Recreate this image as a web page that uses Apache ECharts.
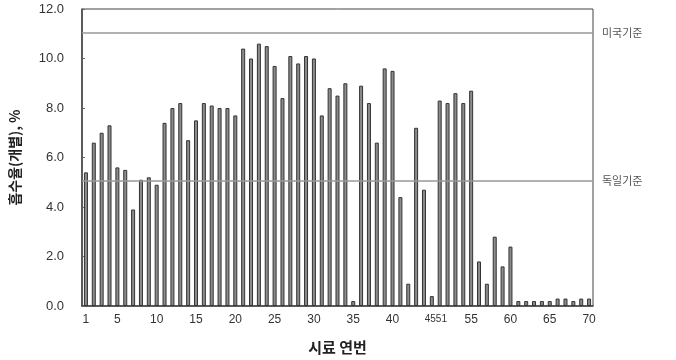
<!DOCTYPE html>
<html>
<head>
<meta charset="utf-8">
<script src="https://cdn.jsdelivr.net/npm/echarts@6/dist/echarts.min.js"></script>
<style>
  html, body { margin: 0; padding: 0; background: #fff; }
  #chart { width: 676px; height: 360px; }
</style>
</head>
<body>
<div id="chart"></div>
<script>
// 시료 번호 (46~50 없음)
var samples = [
  "1", "2", "3", "4", "5", "6", "7", "8", "9", "10",
  "11", "12", "13", "14", "15", "16", "17", "18", "19", "20",
  "21", "22", "23", "24", "25", "26", "27", "28", "29", "30",
  "31", "32", "33", "34", "35", "36", "37", "38", "39", "40",
  "41", "42", "43", "44", "45",
  "51", "52", "53", "54", "55", "56", "57", "58", "59", "60",
  "61", "62", "63", "64", "65", "66", "67", "68", "69", "70"
];
// 흡수율(개별), %
var absorption = [
  5.4, 6.6, 7.0, 7.3, 5.6, 5.5, 3.9, 5.1, 5.2, 4.9,
  7.4, 8.0, 8.2, 6.7, 7.5, 8.2, 8.1, 8.0, 8.0, 7.7,
  10.4, 10.0, 10.6, 10.5, 9.7, 8.4, 10.1, 9.8, 10.1, 10.0,
  7.7, 8.8, 8.5, 9.0, 0.2, 8.9, 8.2, 6.6, 9.6, 9.5,
  4.4, 0.9, 7.2, 4.7, 0.4,
  8.3, 8.2, 8.6, 8.2, 8.7, 1.8, 0.9, 2.8, 1.6, 2.4,
  0.2, 0.2, 0.2, 0.2, 0.2, 0.3, 0.3, 0.2, 0.3, 0.3
];
// x축에 표시할 라벨 (45 자리에 "4551" 로 붙여 표시)
var tickLabels = ["1", "5", "10", "15", "20", "25", "30", "35", "40", "45", "55", "60", "65", "70"];
// 기준선
var limitNames = ["미국기준", "독일기준"];
var limitValues = [11.05, 5.07];

var chart = echarts.init(document.getElementById("chart"));

var fontLatin = "'Liberation Sans', Arial, sans-serif";
var fontKr = "'Noto Sans CJK KR', sans-serif";

var option = {
  animation: false,
  grid: {
    left: 81,
    right: 83,
    top: 9,
    bottom: 48,
    show: true,
    borderColor: "#444",
    borderWidth: 1
  },
  xAxis: {
    type: "category",
    data: samples,
    name: "시료 연번",
    nameLocation: "middle",
    nameGap: 34,
    nameTextStyle: {
      fontFamily: fontKr,
      fontSize: 15,
      fontWeight: "bold",
      color: "#222"
    },
    axisLine: { lineStyle: { color: "#444", width: 1.5 } },
    axisTick: { show: false },
    axisLabel: {
      interval: function (idx, val) {
        return tickLabels.indexOf(val) >= 0;
      },
      formatter: function (val) {
        if (val === "45") return "{s|4551}";
        return val;
      },
      rich: {
        s: { fontSize: 10, fontFamily: fontLatin, color: "#333", padding: [0, 0, 0, 8] }
      },
      margin: 8,
      fontFamily: fontLatin,
      fontSize: 12,
      color: "#333"
    },
    splitLine: { show: false }
  },
  yAxis: {
    type: "value",
    min: 0,
    max: 12,
    interval: 2,
    name: "흡수율(개별), %",
    nameLocation: "middle",
    nameGap: 60,
    nameRotate: 90,
    nameTextStyle: {
      fontFamily: fontKr,
      fontSize: 14,
      fontWeight: "bold",
      color: "#222"
    },
    axisLine: { show: true, lineStyle: { color: "#444", width: 1.5 } },
    axisTick: { show: true, inside: true, length: 3, lineStyle: { color: "#666" } },
    axisLabel: {
      margin: 18,
      fontFamily: fontLatin,
      fontSize: 13,
      color: "#333",
      formatter: function (v) { return v.toFixed(1); }
    },
    splitLine: { show: false }
  },
  series: [
    {
      type: "bar",
      data: absorption,
      barWidth: 4,
      itemStyle: {
        color: "#8c8c8c",
        borderColor: "#333",
        borderWidth: 1
      },
      markLine: {
        silent: true,
        symbol: "none",
        lineStyle: { color: "#999", width: 1.5, type: "solid" },
        label: {
          show: true,
          position: "end",
          distance: 9,
          fontFamily: fontKr,
          fontSize: 11,
          color: "#555",
          formatter: "{b}"
        },
        data: limitValues.map(function (v, i) {
          return { name: limitNames[i], yAxis: v };
        })
      }
    }
  ]
};

chart.setOption(option);
</script>
</body>
</html>
